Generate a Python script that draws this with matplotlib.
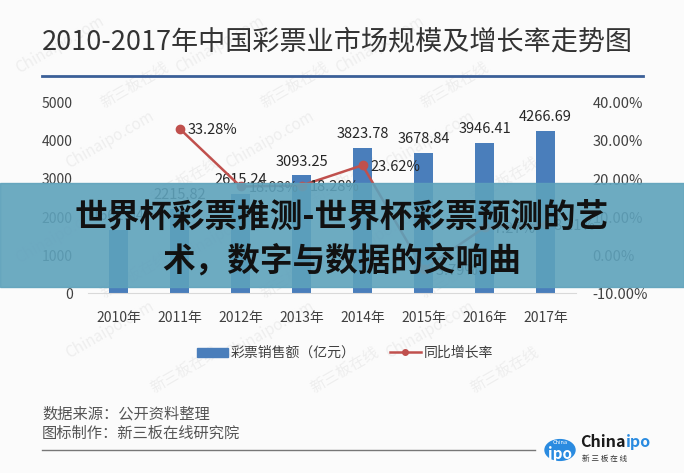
import numpy as np
import matplotlib.pyplot as plt
from matplotlib.patches import Rectangle, Circle
from matplotlib.lines import Line2D

plt.rcParams['font.family'] = ['Noto Sans CJK SC', 'DejaVu Sans']

years = ['2010年', '2011年', '2012年', '2013年', '2014年', '2015年', '2016年', '2017年']
sales = [1662.04, 2215.82, 2615.24, 3093.25, 3823.78, 3678.84, 3946.41, 4266.69]
growth = [np.nan, 33.28, 18.03, 18.28, 23.62, -3.79, 7.27, 8.11]

W, H = 684, 473
fig = plt.figure(figsize=(W / 100, H / 100), dpi=100)
fig.patch.set_facecolor('#fbfbfb')


def fx(px):
    return px / W


def fy(py):
    return 1 - py / H


# faint watermarks
for row, wy in enumerate(range(45, 400, 95)):
    for wx in range(90, 560, 160):
        off = row % 2 * 50
        fig.text(fx(wx + off - 30), fy(wy), 'Chinaipo.com', rotation=30, fontsize=11,
                 color='#eeeeee', ha='center', va='center', zorder=-1)
        fig.text(fx(wx + off + 45), fy(wy + 40), '新三板在线', rotation=30, fontsize=11,
                 color='#eeeeee', ha='center', va='center', zorder=-1)

fig.text(fx(42), fy(42), '2010-2017年中国彩票业市场规模及增长率走势图', fontsize=19.5,
         color='#333333', ha='left', va='center')
fig.add_artist(Line2D([fx(42), fx(643)], [fy(76), fy(76)], color='#3b5f98', lw=2))

ax = fig.add_axes([fx(88), fy(293), fx(576 - 88), (293 - 103) / H])
ax.set_facecolor('none')
x = np.arange(len(years))
ax.bar(x, sales, width=0.3, color='#4a7ebb', zorder=2)
ax.set_xlim(-0.5, 7.5)
ax.set_ylim(0, 5000)
ax.set_yticks(range(0, 5001, 1000))
ax.set_xticks(x)
ax.set_xticklabels(years)
for sp in ['top', 'left', 'right']:
    ax.spines[sp].set_visible(False)
ax.spines['bottom'].set_color('#d9d9d9')
ax.tick_params(axis='both', length=0, colors='#404040', labelsize=10)
ax.tick_params(axis='y', pad=11)
ax.tick_params(axis='x', pad=13)
for xi, v in zip(x, sales):
    ax.annotate(f'{v:.2f}', (xi, v), xytext=(0, 5), textcoords='offset points',
                ha='center', va='bottom', fontsize=10.5, color='#262626')

ax2 = ax.twinx()
ax2.set_ylim(-10, 40)
ax2.set_yticks(range(-10, 41, 10))
ax2.set_yticklabels([f'{t:.2f}%' for t in range(-10, 41, 10)])
for sp in ax2.spines.values():
    sp.set_visible(False)
ax2.tick_params(axis='y', length=0, colors='#404040', labelsize=10.5, pad=12)
ax2.plot(x, growth, color='#c0504d', lw=1.8, marker='o', markersize=6, zorder=3)
for xi, g in zip(x, growth):
    if not np.isnan(g):
        ax2.annotate(f'{g:.2f}%', (xi, g), xytext=(6, -1), textcoords='offset points',
                     ha='left', va='center', fontsize=10.5, color='#262626')

handles = [Rectangle((0, 0), 1, 1, color='#4a7ebb'),
           Line2D([], [], color='#c0504d', lw=1.8, marker='o', markersize=4)]
fig.legend(handles, ['彩票销售额（亿元）', '同比增长率'], loc='center',
           bbox_to_anchor=(fx(345), fy(353)), ncol=2, frameon=False, fontsize=10,
           handlelength=2.2, handleheight=0.6, columnspacing=2.5, handletextpad=0.2,
           labelcolor='#404040')

# footer
fig.text(fx(42), fy(414), '数据来源：公开资料整理', fontsize=11, color='#555555', va='center')
fig.text(fx(42), fy(433), '图标制作：新三板在线研究院', fontsize=11, color='#555555', va='center')
fig.add_artist(Line2D([fx(42), fx(535)], [fy(450), fy(450)], color='#777777', lw=1))
fig.add_artist(Circle((fx(560), fy(450)), 15 / W, transform=fig.transFigure,
                      color='#2a8be0'))
fig.text(fx(560), fy(443), 'China', fontsize=4, color='white', ha='center', va='center')
fig.text(fx(560), fy(454), 'ipo', fontsize=11, color='white', ha='center', va='center',
         fontweight='bold')
china = fig.text(fx(580), fy(442), 'China', fontsize=11.5, color='#1a1a1a', ha='left',
                 va='center', fontweight='bold')
fig.canvas.draw()
bb = china.get_window_extent()
fig.text(bb.x1 / W + 0.001, fy(442), 'ipo', fontsize=11.5, color='#2a8be0', ha='left',
         va='center', fontweight='bold')
fig.text(fx(582), fy(459), '新 三 板 在 线', fontsize=5.5, color='#333333', ha='left',
         va='center')

# overlay banner
fig.add_artist(Rectangle((0, fy(287)), 1, 104 / H, transform=fig.transFigure,
                         color='#5ea2bb', alpha=0.9, zorder=10))
fig.text(0.5, fy(217), '世界杯彩票推测-世界杯彩票预测的艺', fontsize=23.5, fontweight='heavy',
         color='#111111', ha='center', va='center', zorder=11)
fig.text(0.5, fy(261), '术，数字与数据的交响曲', fontsize=23.5, fontweight='heavy',
         color='#111111', ha='center', va='center', zorder=11)

fig.savefig('out.png', dpi=100, facecolor=fig.get_facecolor())
